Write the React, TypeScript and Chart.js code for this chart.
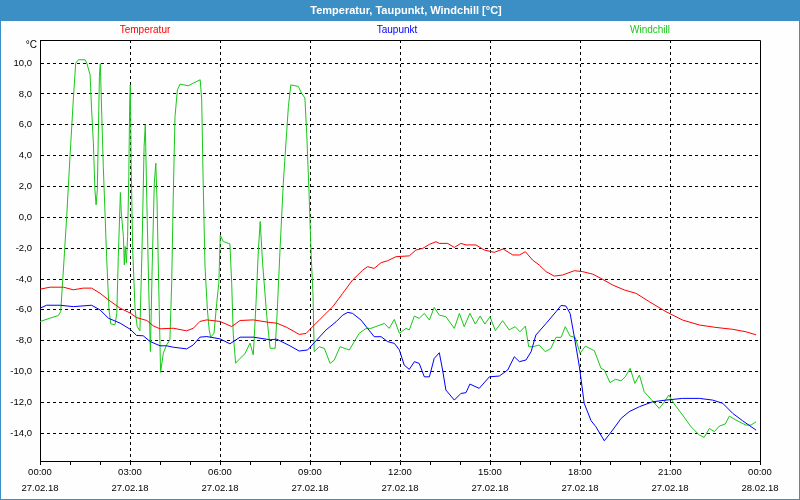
import React, { useEffect, useRef } from 'react';
import { Chart, registerables } from 'chart.js';

Chart.register(...registerables);

const FONT = '"Liberation Sans", Arial, sans-serif';
const TITLE = 'Temperatur, Taupunkt, Windchill [°C]';
const UNIT_LABEL = '°C';

const seriesNames = ['Temperatur', 'Taupunkt', 'Windchill'];
const seriesColors = ['#ff0000', '#0000ff', '#19c819'];

const xTickHours = [0, 3, 6, 9, 12, 15, 18, 21, 24];
const xTickTimes = ['00:00', '03:00', '06:00', '09:00', '12:00', '15:00', '18:00', '21:00', '00:00'];
const xTickDates = ['27.02.18', '27.02.18', '27.02.18', '27.02.18', '27.02.18', '27.02.18', '27.02.18', '27.02.18', '28.02.18'];

const tempHours = [0.0, 0.33, 0.78, 1.11, 1.44, 1.72, 2.0, 2.28, 2.67, 3.0, 3.22, 3.56, 3.78, 4.0, 4.44, 4.89, 5.11, 5.33, 5.56, 6.0, 6.39, 6.67, 7.11, 7.67, 7.89, 8.22, 8.64, 8.87, 9.03, 9.31, 9.76, 10.09, 10.42, 10.76, 10.92, 11.14, 11.37, 11.59, 11.87, 12.31, 12.53, 12.76, 12.98, 13.2, 13.31, 13.59, 13.81, 14.03, 14.2, 14.53, 14.81, 15.14, 15.44, 15.76, 15.98, 16.18, 16.42, 16.64, 16.87, 17.14, 17.42, 17.81, 18.09, 18.42, 18.7, 19.09, 19.48, 19.87, 20.31, 20.87, 21.42, 21.98, 22.53, 23.09, 23.53, 23.87];
const tempValues = [-4.66, -4.53, -4.53, -4.7, -4.59, -4.59, -4.92, -5.35, -5.89, -6.2, -6.5, -6.69, -7.04, -7.23, -7.19, -7.36, -7.19, -6.75, -6.65, -6.75, -7.08, -6.69, -6.65, -6.82, -6.86, -7.13, -7.59, -7.53, -7.2, -6.66, -5.79, -4.93, -4.06, -3.42, -3.2, -3.31, -2.94, -2.81, -2.55, -2.5, -2.12, -2.01, -1.75, -1.58, -1.69, -1.69, -1.95, -1.69, -1.79, -1.79, -2.12, -2.27, -2.05, -2.44, -2.44, -2.23, -2.77, -3.09, -3.52, -3.81, -3.74, -3.46, -3.52, -3.68, -3.96, -4.39, -4.71, -4.93, -5.47, -6.12, -6.66, -6.98, -7.14, -7.26, -7.42, -7.62];

const dewHours = [0, 0.22, 0.67, 1.11, 1.72, 2.0, 2.28, 2.67, 3.0, 3.22, 3.44, 3.67, 4.0, 4.22, 4.44, 4.89, 5.11, 5.33, 5.56, 6.0, 6.33, 6.67, 7.11, 7.67, 7.89, 8.33, 8.64, 8.92, 9.14, 9.53, 9.87, 10.09, 10.26, 10.42, 10.7, 10.92, 11.14, 11.37, 11.59, 11.81, 11.98, 12.14, 12.31, 12.48, 12.64, 12.81, 12.98, 13.14, 13.31, 13.42, 13.53, 13.81, 14.03, 14.2, 14.33, 14.64, 14.98, 15.31, 15.59, 15.81, 15.98, 16.2, 16.37, 16.53, 16.87, 17.2, 17.37, 17.53, 17.67, 17.81, 17.98, 18.14, 18.37, 18.53, 18.81, 19.09, 19.37, 19.64, 19.98, 20.42, 20.87, 21.42, 21.98, 22.42, 22.76, 23.09, 23.42, 23.87];
const dewValues = [-5.89, -5.7, -5.7, -5.79, -5.7, -6.0, -6.54, -6.86, -7.25, -7.66, -7.68, -8.05, -8.33, -8.33, -8.42, -8.53, -8.27, -7.77, -7.73, -7.88, -8.2, -7.77, -7.77, -7.94, -7.9, -8.33, -8.67, -8.6, -8.13, -7.31, -6.77, -6.34, -6.16, -6.23, -6.66, -7.2, -7.74, -7.74, -8.06, -8.17, -8.6, -9.58, -9.86, -9.36, -9.47, -10.34, -10.34, -9.15, -8.78, -9.9, -11.2, -11.85, -11.42, -11.37, -10.81, -11.09, -10.34, -10.29, -9.9, -9.04, -9.36, -9.25, -8.71, -7.63, -6.88, -6.12, -5.71, -5.75, -6.23, -7.74, -9.69, -12.06, -13.19, -13.58, -14.49, -13.79, -13.04, -12.6, -12.28, -11.96, -11.85, -11.74, -11.74, -11.85, -12.06, -12.71, -13.19, -13.8];

const windHours = [0.0, 0.33, 0.61, 0.69, 0.78, 0.89, 1.0, 1.11, 1.19, 1.28, 1.5, 1.56, 1.67, 1.72, 1.78, 1.83, 1.87, 1.91, 1.98, 2.01, 2.06, 2.11, 2.22, 2.3, 2.36, 2.5, 2.56, 2.61, 2.68, 2.71, 2.78, 2.81, 2.84, 2.88, 2.92, 2.96, 2.99, 3.01, 3.04, 3.09, 3.17, 3.24, 3.33, 3.4, 3.47, 3.51, 3.56, 3.62, 3.68, 3.74, 3.81, 3.86, 3.9, 3.96, 4.02, 4.11, 4.22, 4.33, 4.39, 4.44, 4.5, 4.58, 4.67, 4.94, 5.11, 5.34, 5.39, 5.44, 5.5, 5.58, 5.64, 5.69, 5.8, 5.89, 5.96, 6.01, 6.11, 6.33, 6.39, 6.44, 6.52, 6.67, 6.83, 7.0, 7.11, 7.2, 7.28, 7.34, 7.42, 7.56, 7.67, 7.84, 7.91, 8.0, 8.11, 8.22, 8.28, 8.36, 8.61, 8.72, 8.83, 8.89, 8.97, 9.04, 9.1, 9.14, 9.31, 9.48, 9.67, 9.81, 10.0, 10.31, 10.64, 10.87, 11.03, 11.48, 11.64, 11.81, 11.98, 12.2, 12.31, 12.48, 12.64, 12.81, 12.98, 13.14, 13.31, 13.53, 13.81, 13.98, 14.14, 14.33, 14.51, 14.67, 14.83, 15.0, 15.18, 15.42, 15.64, 15.84, 16.0, 16.18, 16.29, 16.42, 16.64, 16.84, 17.03, 17.2, 17.37, 17.51, 17.67, 17.84, 18.0, 18.18, 18.48, 18.7, 18.81, 19.0, 19.18, 19.37, 19.51, 19.67, 19.83, 19.98, 20.14, 20.37, 20.64, 20.78, 20.96, 21.14, 21.42, 21.7, 21.98, 22.14, 22.31, 22.48, 22.64, 22.84, 22.98, 23.2, 23.53, 23.7, 23.87];
const windValues = [-6.76, -6.54, -6.37, -6.11, -3.41, 0.05, 3.95, 7.62, 10.0, 10.22, 10.22, 10.0, 9.24, 6.97, 4.81, 1.78, 0.81, 1.78, 9.14, 9.96, 6.54, 3.3, -2.54, -6.0, -6.91, -6.97, -6.22, -2.54, 1.61, 0.27, -1.24, -3.08, -1.89, -2.97, -1.24, 2.65, 7.41, 8.59, 3.3, -2.11, -6.0, -7.08, -7.36, -2.11, 4.59, 6.0, 1.14, -4.27, -8.7, -3.19, 2.22, 3.51, 1.14, -4.7, -10.06, -8.81, -8.27, -7.95, -4.27, 1.14, 6.54, 8.27, 8.64, 8.53, 8.7, 8.92, 7.62, 2.22, -3.19, -6.0, -7.3, -7.77, -7.51, -5.57, -4.27, -1.16, -1.57, -1.72, -4.27, -7.51, -9.46, -9.14, -8.85, -8.16, -8.92, -5.57, -2.11, -0.27, -2.97, -6.43, -8.49, -8.49, -6.0, -2.11, 2.22, 5.46, 7.19, 8.59, 8.49, 8.05, 7.73, 5.46, 1.5, -2.5, -5.0, -8.71, -8.39, -8.5, -9.47, -9.25, -8.39, -8.6, -7.52, -7.2, -7.2, -6.88, -7.2, -6.62, -7.52, -7.2, -7.3, -6.4, -6.55, -6.23, -6.66, -5.84, -6.34, -6.44, -7.2, -6.23, -7.09, -6.23, -6.92, -6.4, -6.92, -6.44, -7.35, -6.7, -7.3, -7.09, -7.42, -7.05, -8.39, -8.39, -8.28, -8.71, -8.5, -7.78, -7.78, -7.09, -7.7, -7.78, -8.82, -8.35, -8.65, -9.79, -9.9, -10.72, -10.5, -10.6, -10.34, -9.79, -10.77, -10.23, -11.31, -11.8, -12.39, -12.06, -11.52, -12.1, -12.82, -13.58, -14.12, -14.27, -13.69, -13.9, -13.54, -13.4, -12.89, -13.15, -13.47, -13.47, -13.25];

const Y_MIN = -15.8;
const Y_MAX = 11.5;
const Y_STEP = 2;

const toPoints = (xs: number[], ys: number[]) => xs.map((x, i) => ({ x, y: ys[i] }));

const FRAME_BLUE = '#3c8fc5';

const framePlugin = {
  id: 'framePlugin',
  beforeDraw(chart: any) {
    const { ctx, width, height } = chart;
    ctx.save();
    ctx.fillStyle = '#fdfefd';
    ctx.fillRect(0, 0, width, height);
    ctx.fillStyle = FRAME_BLUE;
    ctx.fillRect(0, 0, width, 21);
    ctx.fillRect(0, 0, 1, height);
    ctx.fillRect(width - 1, 0, 1, height);
    ctx.fillRect(0, height - 1, width, 1);
    ctx.fillStyle = '#ffffff';
    ctx.font = `bold 11px ${FONT}`;
    ctx.textAlign = 'center';
    ctx.textBaseline = 'middle';
    ctx.fillText(TITLE, width / 2 + 6, 10.5);
    // legend
    ctx.font = `10px ${FONT}`;
    const cols = [145, 397, 650];
    chart.data.datasets.forEach((ds: any, i: number) => {
      ctx.fillStyle = ds.borderColor;
      ctx.fillText(ds.label, cols[i], 30.5);
    });
    // unit label
    ctx.fillStyle = '#000';
    ctx.textAlign = 'right';
    ctx.fillText(UNIT_LABEL, 37, 45);
    ctx.restore();
  },
  afterDraw(chart: any) {
    const { ctx, chartArea } = chart;
    ctx.save();
    ctx.strokeStyle = '#000';
    ctx.lineWidth = 1;
    ctx.beginPath();
    ctx.moveTo(chartArea.left, Math.round(chartArea.top) + 0.5);
    ctx.lineTo(Math.round(chartArea.right) + 0.5, Math.round(chartArea.top) + 0.5);
    ctx.lineTo(Math.round(chartArea.right) + 0.5, chartArea.bottom);
    ctx.stroke();
    ctx.restore();
  },
};

export default function App() {
  const canvasRef = useRef<HTMLCanvasElement | null>(null);

  useEffect(() => {
    document.body.style.margin = '0';
    const canvas = canvasRef.current;
    if (!canvas) return;
    const chart = new Chart(canvas, {
      type: 'line',
      data: {
        datasets: [
          { label: seriesNames[0], data: toPoints(tempHours, tempValues), borderColor: seriesColors[0], backgroundColor: seriesColors[0], borderWidth: 1, pointRadius: 0, tension: 0, fill: false },
          { label: seriesNames[1], data: toPoints(dewHours, dewValues), borderColor: seriesColors[1], backgroundColor: seriesColors[1], borderWidth: 1, pointRadius: 0, tension: 0, fill: false },
          { label: seriesNames[2], data: toPoints(windHours, windValues), borderColor: seriesColors[2], backgroundColor: seriesColors[2], borderWidth: 1, pointRadius: 0, tension: 0, fill: false },
        ],
      },
      options: {
        animation: false,
        responsive: false,
        devicePixelRatio: 1,
        layout: { padding: { top: 40, right: 40, left: 0, bottom: 0 } },
        plugins: {
          legend: { display: false },
          title: { display: false },
          tooltip: { enabled: false },
        },
        scales: {
          x: {
            type: 'linear',
            min: 0,
            max: 24,
            afterFit: (scale: any) => { scale.height = 39; },
            ticks: {
              stepSize: 1,
              autoSkip: false,
              maxRotation: 0,
              padding: 0,
              color: '#000',
              font: { family: FONT, size: 9.5, lineHeight: 1.65 },
              callback: (value: any) => {
                const idx = xTickHours.indexOf(Number(value));
                return idx >= 0 ? [xTickTimes[idx], xTickDates[idx]] : '';
              },
            },
            grid: {
              drawOnChartArea: true,
              drawTicks: true,
              tickLength: 4,
              tickColor: '#000',
              lineWidth: 1,
              color: (ctx: any) => {
                const v = ctx.tick ? ctx.tick.value : -1;
                return v > 0 && v < 24 && v % 3 === 0 ? '#000' : 'rgba(0,0,0,0)';
              },
            },
            border: { display: true, color: '#000', width: 1, dash: [3, 3] },
          },
          y: {
            type: 'linear',
            min: Y_MIN,
            max: Y_MAX,
            afterFit: (scale: any) => { scale.width = 40; },
            ticks: {
              stepSize: Y_STEP,
              includeBounds: false,
              padding: 8,
              color: '#000',
              font: { family: FONT, size: 9.5 },
              callback: (value: any) => Number(value).toFixed(1).replace('.', ','),
            },
            grid: {
              drawTicks: false,
              tickLength: 0,
              color: '#000',
              lineWidth: 1,
            },
            border: { display: true, color: '#000', width: 1, dash: [3, 3] },
          },
        },
      },
      plugins: [framePlugin],
    } as any);
    return () => chart.destroy();
  }, []);

  return (
    <div style={{ width: 800, height: 500 }}>
      <canvas ref={canvasRef} width={800} height={500} style={{ display: 'block', width: 800, height: 500 }} />
    </div>
  );
}
